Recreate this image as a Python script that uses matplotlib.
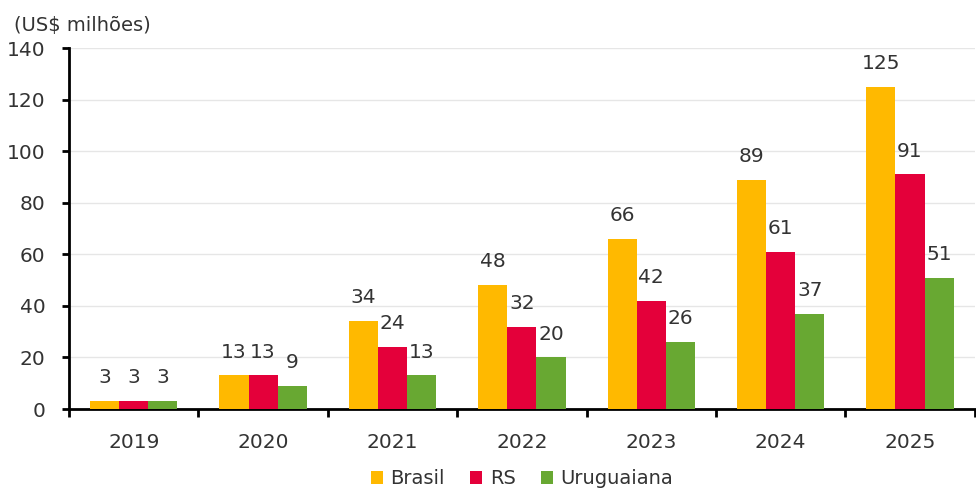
import matplotlib
matplotlib.use("Agg")
import matplotlib.pyplot as plt
import numpy as np

years = ["2019", "2020", "2021", "2022", "2023", "2024", "2025"]
brasil = [3, 13, 34, 48, 66, 89, 125]
rs = [3, 13, 24, 32, 42, 61, 91]
uruguaiana = [3, 9, 13, 20, 26, 37, 51]
series_names = ["Brasil", "RS", "Uruguaiana"]
colors = ["#FFB900", "#E4003A", "#68A832"]

plt.rcParams['font.family'] = ['DejaVu Sans']

fig = plt.figure(figsize=(9.76, 4.91), dpi=100)
ax = fig.add_axes([0.0707, 0.167, 0.928, 0.735])

x = np.arange(len(years))
w = 0.225
txt = "#333333"
for i, (vals, name, c) in enumerate(zip([brasil, rs, uruguaiana], series_names, colors)):
    pos = x + (i - 1) * w
    ax.bar(pos, vals, width=w, color=c, label=name, zorder=3)
    for p, v in zip(pos, vals):
        ax.annotate(str(v), (p, v), xytext=(0, 10), textcoords="offset points",
                    ha="center", va="bottom", fontsize=14.5, color=txt)

ax.set_xlim(-0.5, len(years) - 0.5)
ax.set_ylim(0, 140)
ax.set_yticks(np.arange(0, 141, 20))
ax.yaxis.grid(True, color="#E6E6E6", linewidth=1, zorder=0)
ax.set_axisbelow(True)

ax.set_xticks(x)
ax.set_xticklabels(years)
ax.set_xticks(np.arange(-0.5, len(years), 1.0), minor=True)
ax.tick_params(axis="x", which="major", length=0, pad=17, labelsize=14.5, labelcolor=txt)
ax.tick_params(axis="x", which="minor", length=6, width=2, direction="out", color="black")
ax.tick_params(axis="y", length=5, width=2, direction="out", color="black", labelsize=14.5,
               labelcolor=txt, pad=12)

for s in ["top", "right"]:
    ax.spines[s].set_visible(False)
ax.spines["left"].set_linewidth(2)
ax.spines["bottom"].set_linewidth(2)

fig.text(0.014, 0.948, "(US$ milhões)", fontsize=14, color=txt, ha="left", va="center")

leg = fig.legend(loc="center", bbox_to_anchor=(0.535, 0.025), ncol=3, frameon=False,
                 fontsize=14, handlelength=0.6, handleheight=0.6, handletextpad=0.4,
                 columnspacing=1.3)
for t in leg.get_texts():
    t.set_color(txt)

fig.savefig("out.png", dpi=100)
